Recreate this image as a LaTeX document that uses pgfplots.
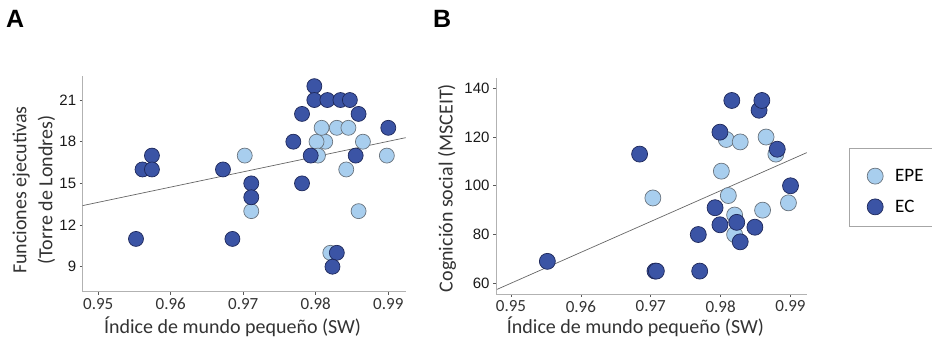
\documentclass[border=0pt]{standalone}
\usepackage{fontspec}
\setmainfont{Carlito}
\newfontfamily\arial{Liberation Sans}
\usepackage{pgfplots}
\pgfplotsset{compat=1.18}
\definecolor{lightpt}{RGB}{168,206,238}
\definecolor{lightedge}{RGB}{105,115,125}
\definecolor{darkpt}{RGB}{59,84,165}
\definecolor{darkedge}{RGB}{30,40,90}
\definecolor{labtext}{RGB}{51,51,51}
\pgfplotsset{
  myaxis/.style={
    scale only axis,
    xmin=0.94785, xmax=0.9924,
    axis lines=left,
    axis line style={-, draw=gray!60, line width=0.8pt},
    tick align=outside, major tick length=3pt,
    tick style={draw=gray!70!black, line width=0.6pt},
    xtick={0.95,0.96,0.97,0.98,0.99},
    xticklabels={0.95,0.96,0.97,0.98,0.99},
    x tick label style={font=\fontsize{17}{20}\selectfont, text=labtext},
    y tick label style={font=\arial\fontsize{15}{18}\selectfont, text=black!90},
    label style={font=\fontsize{20}{25}\selectfont, text=labtext},
    clip=false,
  },
  epe/.style={only marks, mark=*, mark size=7.5pt,
    mark options={fill=lightpt, draw=lightedge, line width=0.7pt}},
  ec/.style={only marks, mark=*, mark size=7.5pt,
    mark options={fill=darkpt, draw=darkedge, line width=0.7pt}},
  regline/.style={no marks, draw=gray!80!black, line width=0.7pt},
}
\begin{document}
\begin{tikzpicture}[x=1pt,y=1pt]
\useasboundingbox (0,0) rectangle (932,343);
% Panel labels
\node[anchor=base west, inner sep=0, font=\arial\bfseries\fontsize{25}{30}\selectfont] at (6,315) {A};
\node[anchor=base west, inner sep=0, font=\arial\bfseries\fontsize{25}{30}\selectfont] at (433,315) {B};
% Panel A
\begin{axis}[myaxis,
  at={(82.7pt,51.3pt)}, anchor=south west,
  width=323pt, height=215.7pt,
  ymin=7.2, ymax=22.73,
  ytick={9,12,15,18,21},
  yticklabels={9,12,15,18,21},
  xlabel={Índice de mundo pequeño (SW)},
  xlabel style={at={(axis description cs:0.464,-0.196)}, anchor=base},
  ylabel={Funciones ejecutivas\\(Torre de Londres)},
  ylabel style={align=center, at={(axis description cs:-0.151,0.4715)}, anchor=center, font=\fontsize{20}{26}\selectfont},
]
\addplot[regline] coordinates {(0.94785,13.40) (0.9924,18.29)};
\addplot[epe] coordinates {
(0.9702,17) (0.9711,13) (0.9813,18) (0.9801,18) (0.9808,19) (0.9803,17)
(0.9829,19) (0.9845,19) (0.9865,18) (0.9842,16) (0.9859,13) (0.9898,17) (0.9820,10)
};
\addplot[ec] coordinates {
(0.9552,11) (0.9561,16) (0.9574,17) (0.9574,16) (0.9672,16) (0.9685,11)
(0.9711,15) (0.9711,14) (0.9769,18) (0.9781,20) (0.9781,15) (0.9798,22)
(0.9798,21) (0.9793,17) (0.9816,21) (0.9834,21) (0.9847,21) (0.9859,20)
(0.9855,17) (0.9900,19) (0.9829,10) (0.9823,9)
};
\end{axis}
% Panel B
\begin{axis}[myaxis,
  at={(496pt,49pt)}, anchor=south west,
  width=311.3pt, height=215.7pt,
  ymin=55.6, ymax=144.1,
  ytick={60,80,100,120,140},
  yticklabels={60,80,100,120,140},
  xlabel={Índice de mundo pequeño (SW)},
  xlabel style={at={(axis description cs:0.448,-0.182)}, anchor=base},
  ylabel={Cognición social (MSCEIT)},
  ylabel style={at={(axis description cs:-0.157,0.491)}, anchor=center},
  legend style={at={(axis description cs:1.1821,0.4750)}, anchor=west,
    draw=none, fill=none, font=\fontsize{19}{22}\selectfont, row sep=13pt,
    column sep=10pt, legend cell align=left},
]
\addplot[regline, forget plot] coordinates {(0.9480,57.5) (0.99232,113.6)};
\addplot[epe, mark size=8pt] coordinates {
(0.9703,95) (0.9808,119) (0.9828,118) (0.9801,106) (0.9811,96) (0.9820,88)
(0.9820,80) (0.9860,90) (0.9865,120) (0.9879,113) (0.9897,93)
};
\addlegendentry{EPE}
\addplot[ec, mark size=8pt] coordinates {
(0.9552,69) (0.9684,113) (0.9706,65) (0.9708,65) (0.9768,80) (0.9770,65)
(0.9792,91) (0.9799,84) (0.9799,122) (0.9816,135) (0.9823,85) (0.9828,77)
(0.9849,83) (0.9855,131) (0.9859,135) (0.9881,115) (0.9900,100)
};
\addlegendentry{EC}
\end{axis}
% legend frame
\draw[gray!70, line width=0.8pt] (849.3,116.3) rectangle (960,194.7);
\end{tikzpicture}
\end{document}
